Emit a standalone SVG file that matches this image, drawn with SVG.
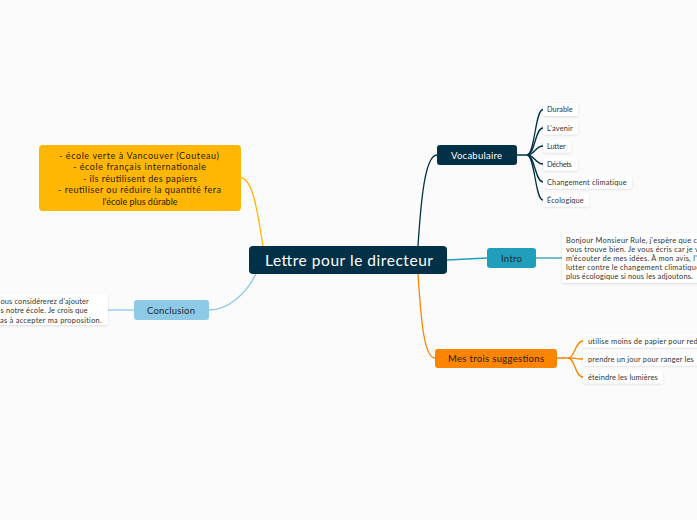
<svg xmlns="http://www.w3.org/2000/svg" width="697" height="520" viewBox="0 0 697 520">
<defs>
<filter id="sh" x="-20%" y="-30%" width="140%" height="160%">
<feDropShadow dx="0" dy="1" stdDeviation="1" flood-color="#000" flood-opacity="0.12"/>
</filter>
</defs>
<style>
text{font-family:Lato,"Noto Sans","Liberation Sans",sans-serif;}
.leaf rect{fill:#fff;filter:url(#sh);}
.leaf text{font-size:7.4px;fill:#333;letter-spacing:0.25px;}
.c{fill:none;stroke-width:1.3;}
.navy{stroke:#023047;}
.teal{stroke:#219EBC;}
.lb{stroke:#8ECAE6;}
.yel{stroke:#FFB703;}
.org{stroke:#FB8500;}
</style>
<rect width="697" height="520" fill="#fbfbfc"/>
<g id="connectors">
<path class="c yel" d="M241,178 C253,178 258,215 263,246"/>
<path class="c lb" d="M256,274 C246,294 228,310 209,310"/>
<path class="c navy" d="M418,246 C421,200 425,155 437,155"/>
<path class="c org" d="M418,274 C421,320 424,358 435,358"/>
<path class="c teal" d="M447,260 L487,258"/>
<path class="c teal" d="M536,258 L562,258"/>
<path class="c lb" d="M134,310 L108,310"/>
<path class="c navy" d="M517,155 L527,155 C535,155 535,109.5 543,109.5"/>
<path class="c navy" d="M527,155 C535,155 535,128 543,128"/>
<path class="c navy" d="M527,155 C535,155 535,146 543,146"/>
<path class="c navy" d="M527,155 C535,155 535,164 543,164"/>
<path class="c navy" d="M527,155 C535,155 535,182 543,182"/>
<path class="c navy" d="M527,155 C535,155 535,200 543,200"/>
<path class="c org" d="M557,358 L568,358 C575,358 575,341 583,341"/>
<path class="c org" d="M568,358 C575,358 575,359 583,359"/>
<path class="c org" d="M568,358 C575,358 575,377 583,377"/>
</g>
<g id="central">
<rect x="249" y="246" width="198" height="28" rx="4" fill="#023047"/>
<text x="265" y="265.5" font-size="15.5" fill="#fff" textLength="168" lengthAdjust="spacing">Lettre pour le directeur</text>
</g>
<g id="vocabulaire">
<rect x="437" y="145" width="80" height="20" rx="3" fill="#023047"/>
<text x="451" y="158.5" font-size="9.5" fill="#fff" textLength="51" lengthAdjust="spacing">Vocabulaire</text>
</g>
<g id="intro">
<rect x="487" y="248" width="49" height="20" rx="3" fill="#219EBC"/>
<text x="501" y="261.5" font-size="9.5" fill="#1d2b33" textLength="21" lengthAdjust="spacing">Intro</text>
</g>
<g id="suggestions">
<rect x="435" y="349" width="122" height="19" rx="3" fill="#FB8500"/>
<text x="448" y="361.8" font-size="9.5" fill="#2a1a0a" textLength="96" lengthAdjust="spacing">Mes trois suggestions</text>
</g>
<g id="conclusion">
<rect x="134" y="300" width="75" height="20" rx="3" fill="#8ECAE6"/>
<text x="147" y="313.5" font-size="9.5" fill="#1d2b33" textLength="48" lengthAdjust="spacing">Conclusion</text>
</g>
<g id="notes">
<rect x="39" y="145" width="202" height="66" rx="4" fill="#FFB703"/>
<g font-size="9" fill="#2a2000">
<text x="59" y="159" textLength="160" lengthAdjust="spacing">- école verte à Vancouver (Couteau)</text>
<text x="73" y="170" textLength="133" lengthAdjust="spacing">- école français internationale</text>
<text x="83" y="181.5" textLength="114" lengthAdjust="spacing">- ils réutilisent des papiers</text>
<text x="58" y="193" textLength="163" lengthAdjust="spacing">- reutiliser ou réduire la quantité fera</text>
<text x="140" y="204.5" text-anchor="middle">l'école plus dûrable</text>
</g>
</g>
<g id="leaf-durable" class="leaf"><rect x="543" y="103" width="35" height="13" rx="2"/><text x="547" y="112" textLength="26" lengthAdjust="spacing">Durable</text></g>
<g id="leaf-avenir" class="leaf"><rect x="543" y="121.5" width="35" height="13" rx="2"/><text x="547" y="130.5" textLength="26" lengthAdjust="spacing">L'avenir</text></g>
<g id="leaf-lutter" class="leaf"><rect x="543" y="139.5" width="28" height="13" rx="2"/><text x="547" y="148.5" textLength="19" lengthAdjust="spacing">Lutter</text></g>
<g id="leaf-dechets" class="leaf"><rect x="543" y="157.5" width="35" height="13" rx="2"/><text x="547" y="166.5" textLength="25" lengthAdjust="spacing">Déchets</text></g>
<g id="leaf-changement" class="leaf"><rect x="543" y="175.5" width="89" height="13" rx="2"/><text x="547" y="184.5" textLength="80" lengthAdjust="spacing">Changement climatique</text></g>
<g id="leaf-ecologique" class="leaf"><rect x="543" y="193.5" width="46" height="13" rx="2"/><text x="547" y="202.5" textLength="37" lengthAdjust="spacing">Écologique</text></g>
<g id="leaf-intro" class="leaf"><rect x="562" y="233" width="150" height="50" rx="3"/>
<text x="566" y="242.5">Bonjour Monsieur Rule, j'espère que ce</text>
<text x="566" y="251.5">vous trouve bien. Je vous écris car je v</text>
<text x="566" y="260.5">m'écouter de mes idées. À mon avis, l'</text>
<text x="566" y="269.5">lutter contre le changement climatique</text>
<text x="566" y="278.5" textLength="127" lengthAdjust="spacing">plus écologique si nous les adjoutons.</text>
</g>
<g id="leaf-s1" class="leaf"><rect x="583" y="334.5" width="130" height="13" rx="2"/><text x="588" y="343.5">utilise moins de papier pour red</text></g>
<g id="leaf-s2" class="leaf"><rect x="583" y="352.5" width="130" height="13" rx="2"/><text x="588" y="361.5" textLength="106" lengthAdjust="spacing">prendre un jour pour ranger les</text></g>
<g id="leaf-s3" class="leaf"><rect x="583" y="370.5" width="80" height="13" rx="2"/><text x="588" y="379.5" textLength="70" lengthAdjust="spacing">éteindre les lumières</text></g>
<g id="leaf-conclusion" class="leaf"><rect x="-20" y="294" width="128" height="31" rx="3"/>
<text x="0.5" y="304" textLength="88.5" lengthAdjust="spacing">ous considérerez d'ajouter</text>
<text x="0.5" y="313" textLength="87.5" lengthAdjust="spacing">s notre école. Je crois que</text>
<text x="0" y="322.5" textLength="102" lengthAdjust="spacing">as à accepter ma proposition.</text>
</g>
</svg>
